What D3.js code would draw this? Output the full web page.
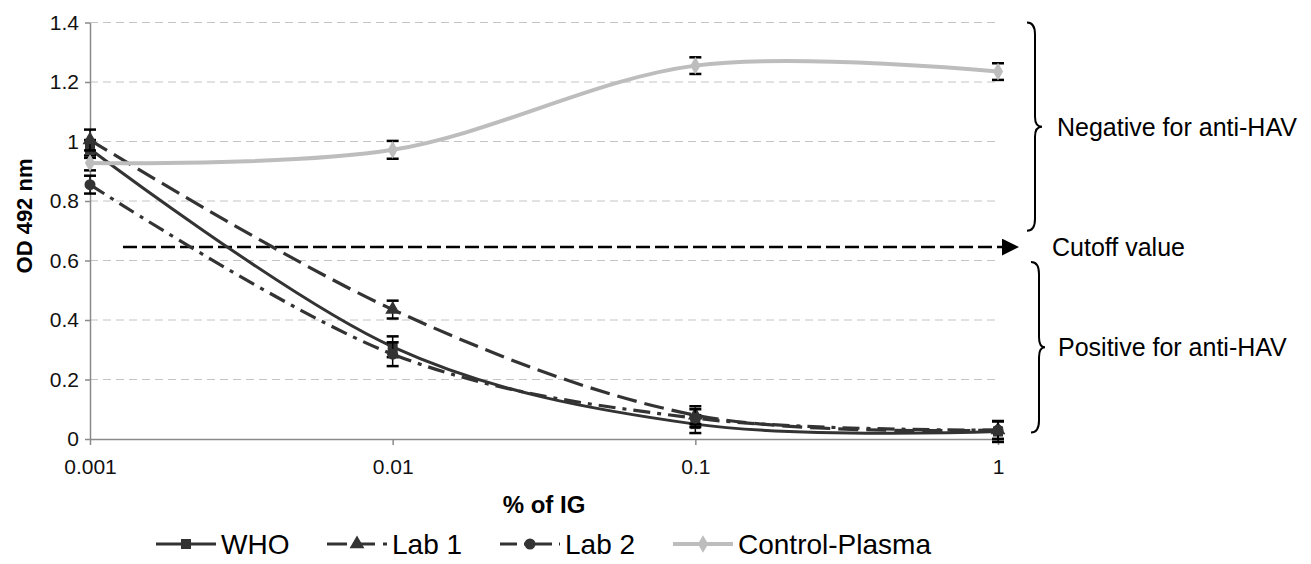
<!DOCTYPE html>
<html>
<head>
<meta charset="utf-8">
<script src="https://cdn.jsdelivr.net/npm/d3@7"></script>
<style>
  body { margin: 0; background: #fff; }
  svg { font-family: "Liberation Sans", Arial, sans-serif; }
</style>
</head>
<body>
<script>
// data
var doses = [0.001, 0.01, 0.1, 1];
var doseLabels = ["0.001", "0.01", "0.1", "1"];
var yTicks = [0, 0.2, 0.4, 0.6, 0.8, 1, 1.2, 1.4];
var yTickLabels = ["0", "0.2", "0.4", "0.6", "0.8", "1", "1.2", "1.4"];

var seriesNames = ["WHO", "Lab 1", "Lab 2", "Control-Plasma"];
var whoValues = [0.975, 0.31, 0.05, 0.025];
var whoErrors = [0.03, 0.035, 0.03, 0.035];
var lab1Values = [1.005, 0.435, 0.08, 0.03];
var lab1Errors = [0.035, 0.03, 0.03, 0.03];
var lab2Values = [0.855, 0.285, 0.07, 0.03];
var lab2Errors = [0.03, 0.04, 0.03, 0.03];
var controlValues = [0.928, 0.972, 1.255, 1.235];
var controlErrors = [0.025, 0.03, 0.028, 0.028];

var cutoff = 0.645;
var negativeRange = [1.4, 0.7];
var positiveRange = [0.595, 0.022];

var width = 1311, height = 564;

var svg = d3.select('body').append('svg')
  .attr('width', width)
  .attr('height', height);

var x = d3.scaleLog().domain([0.001, 1]).range([90, 998]);
var y = d3.scaleLinear().domain([0, 1.4]).range([439, 22.5]);

// gridlines
svg.append('g').selectAll('line')
  .data(yTicks.slice(1))
  .enter().append('line')
  .attr('x1', x(0.001)).attr('x2', x(1))
  .attr('y1', function(d){ return y(d); })
  .attr('y2', function(d){ return y(d); })
  .attr('stroke', '#c4c4c4')
  .attr('stroke-width', 1)
  .attr('stroke-dasharray', '8,5');

// axes
var yAxis = d3.axisLeft(y).tickValues(yTicks)
  .tickFormat(function(d, i){ return yTickLabels[i]; })
  .tickSizeInner(5).tickSizeOuter(0).tickPadding(6);
var gy = svg.append('g').attr('transform', 'translate(' + x(0.001) + ',0)').call(yAxis);

var xAxis = d3.axisBottom(x).tickValues(doses)
  .tickFormat(function(d, i){ return doseLabels[i]; })
  .tickSizeInner(6).tickSizeOuter(0).tickPadding(14);
var gx = svg.append('g').attr('transform', 'translate(0,' + y(0) + ')').call(xAxis);

[gx, gy].forEach(function(g){
  g.select('.domain').attr('stroke', '#8a8a8a').attr('stroke-width', 1.5);
  g.selectAll('.tick line').attr('stroke', '#8a8a8a').attr('stroke-width', 1.5);
  g.selectAll('.tick text').attr('fill', '#111').style('font-size', '21px')
    .style('font-family', '"Liberation Sans", Arial, sans-serif');
});

// axis titles
svg.append('text')
  .attr('transform', 'translate(32,216) rotate(-90)')
  .attr('text-anchor', 'middle')
  .style('font-size', '22px').style('font-weight', 'bold')
  .text('OD 492 nm');

svg.append('text')
  .attr('x', 544).attr('y', 513)
  .attr('text-anchor', 'middle')
  .style('font-size', '24px').style('font-weight', 'bold')
  .text('% of IG');

// cutoff arrow
svg.append('defs').append('marker')
  .attr('id', 'arrow')
  .attr('viewBox', '0 0 10 10')
  .attr('refX', 0).attr('refY', 5)
  .attr('markerUnits', 'userSpaceOnUse')
  .attr('markerWidth', 20).attr('markerHeight', 17)
  .attr('orient', 'auto')
  .append('path').attr('d', 'M0,0 L10,5 L0,10 Z').attr('fill', '#000');

svg.append('line')
  .attr('x1', 123).attr('x2', 1002)
  .attr('y1', y(cutoff)).attr('y2', y(cutoff))
  .attr('stroke', '#000').attr('stroke-width', 2.5)
  .attr('stroke-dasharray', '14,5')
  .attr('marker-end', 'url(#arrow)');

// series
var series = [
  { name: seriesNames[0], values: whoValues, errors: whoErrors, color: '#333', dash: null, marker: 'square', w: 3 },
  { name: seriesNames[1], values: lab1Values, errors: lab1Errors, color: '#333', dash: '20,8', marker: 'triangle', w: 3.2 },
  { name: seriesNames[2], values: lab2Values, errors: lab2Errors, color: '#333', dash: '17,7,4,7', marker: 'circle', w: 3.2 },
  { name: seriesNames[3], values: controlValues, errors: controlErrors, color: '#bdbdbd', dash: null, marker: 'diamond', w: 4 }
];

var symbols = {
  square: d3.symbol().type(d3.symbolSquare).size(100),
  triangle: d3.symbol().type(d3.symbolTriangle).size(95),
  circle: d3.symbol().type(d3.symbolCircle).size(95),
  diamond: d3.symbol().type(d3.symbolDiamond).size(90)
};

var line = d3.line()
  .x(function(d){ return x(d[0]); })
  .y(function(d){ return y(d[1]); })
  .curve(d3.curveCatmullRom.alpha(0));

series.forEach(function(s){
  var pts = doses.map(function(d, i){ return [d, s.values[i], s.errors[i]]; });
  var g = svg.append('g');
  g.append('path')
    .attr('d', line(pts))
    .attr('fill', 'none')
    .attr('stroke', s.color)
    .attr('stroke-width', s.w)
    .attr('stroke-dasharray', s.dash);
  var eb = g.selectAll('g.err').data(pts).enter().append('g').attr('class', 'err');
  eb.append('line')
    .attr('x1', function(d){ return x(d[0]); }).attr('x2', function(d){ return x(d[0]); })
    .attr('y1', function(d){ return y(d[1] - d[2]); }).attr('y2', function(d){ return y(d[1] + d[2]); })
    .attr('stroke', '#000').attr('stroke-width', 1.5);
  [-1, 1].forEach(function(sg){
    eb.append('line')
      .attr('x1', function(d){ return x(d[0]) - 6; }).attr('x2', function(d){ return x(d[0]) + 6; })
      .attr('y1', function(d){ return y(d[1] + sg * d[2]); }).attr('y2', function(d){ return y(d[1] + sg * d[2]); })
      .attr('stroke', '#000').attr('stroke-width', 2.5);
  });
  g.selectAll('path.mk').data(pts).enter().append('path')
    .attr('class', 'mk')
    .attr('d', symbols[s.marker])
    .attr('transform', function(d){ return 'translate(' + x(d[0]) + ',' + y(d[1]) + ')'; })
    .attr('fill', s.color);
});

// braces
function brace(x0, yTop, yBot, tip) {
  var mid = (yTop + yBot) / 2;
  var xs = x0 + 8;
  return 'M' + x0 + ',' + yTop +
    ' Q' + xs + ',' + yTop + ' ' + xs + ',' + (yTop + 12) +
    ' L' + xs + ',' + (mid - 10) +
    ' Q' + xs + ',' + mid + ' ' + tip + ',' + mid +
    ' Q' + xs + ',' + mid + ' ' + xs + ',' + (mid + 10) +
    ' L' + xs + ',' + (yBot - 12) +
    ' Q' + xs + ',' + yBot + ' ' + x0 + ',' + yBot;
}
svg.append('path')
  .attr('d', brace(1027, y(negativeRange[0]), y(negativeRange[1]), 1042))
  .attr('fill', 'none').attr('stroke', '#000').attr('stroke-width', 2);
svg.append('path')
  .attr('d', brace(1031, y(positiveRange[0]), y(positiveRange[1]), 1045))
  .attr('fill', 'none').attr('stroke', '#000').attr('stroke-width', 2);

var side = [
  { text: 'Negative for anti-HAV', x: 1057, v: (negativeRange[0] + negativeRange[1]) / 2 },
  { text: 'Cutoff value', x: 1052, v: cutoff },
  { text: 'Positive for anti-HAV', x: 1058, v: (positiveRange[0] + positiveRange[1]) / 2 }
];
svg.selectAll('text.side').data(side).enter().append('text')
  .attr('class', 'side')
  .attr('x', function(d){ return d.x; })
  .attr('y', function(d){ return y(d.v) + 9; })
  .style('font-size', '25px')
  .text(function(d){ return d.text; });

// legend
var legendX = [156, 327, 500, 673];
var legend = svg.append('g').attr('transform', 'translate(0,544)');
series.forEach(function(s, i){
  var lg = legend.append('g').attr('transform', 'translate(' + legendX[i] + ',0)');
  lg.append('line').attr('x1', 0).attr('x2', 60).attr('y1', 0).attr('y2', 0)
    .attr('stroke', s.color).attr('stroke-width', s.w)
    .attr('stroke-dasharray', s.dash);
  lg.append('path').attr('d', symbols[s.marker]).attr('transform', 'translate(30,0)').attr('fill', s.color);
  lg.append('text').attr('x', 65).attr('y', 10)
    .style('font-size', '28px')
    .text(s.name);
});
</script>
</body>
</html>
